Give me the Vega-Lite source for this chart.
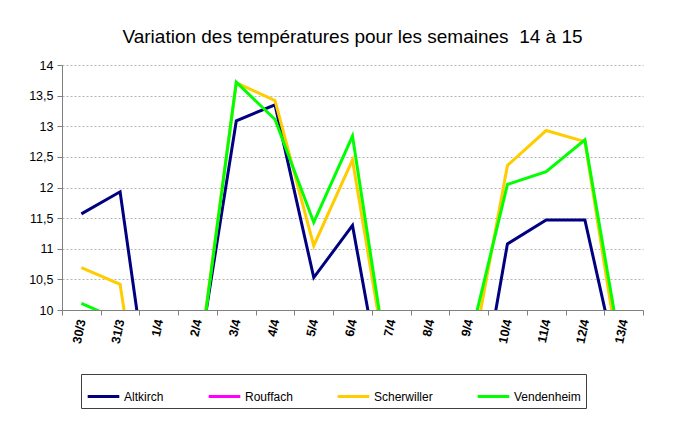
{
  "$schema": "https://vega.github.io/schema/vega-lite/v6.json",
  "width": 581,
  "height": 245,
  "autosize": "none",
  "padding": {"left": 62, "top": 65, "right": 39, "bottom": 116},
  "background": "white",
  "title": {
    "text": "Variation des températures pour les semaines\u00a0 14 à 15",
    "font": "Liberation Sans",
    "fontSize": 19,
    "fontWeight": "normal",
    "color": "#000000",
    "anchor": "middle",
    "offset": 12
  },
  "data": {
    "values": [
      {"date": "30/3", "station": "Altkirch", "temp": 11.57},
      {"date": "31/3", "station": "Altkirch", "temp": 11.93},
      {"date": "1/4", "station": "Altkirch", "temp": 7.45},
      {"date": "2/4", "station": "Altkirch", "temp": 9.1},
      {"date": "3/4", "station": "Altkirch", "temp": 13.09},
      {"date": "4/4", "station": "Altkirch", "temp": 13.35},
      {"date": "5/4", "station": "Altkirch", "temp": 10.53},
      {"date": "6/4", "station": "Altkirch", "temp": 11.38},
      {"date": "7/4", "station": "Altkirch", "temp": 7.9},
      {"date": "8/4", "station": "Altkirch", "temp": 8.0},
      {"date": "9/4", "station": "Altkirch", "temp": 7.47},
      {"date": "10/4", "station": "Altkirch", "temp": 11.08},
      {"date": "11/4", "station": "Altkirch", "temp": 11.47},
      {"date": "12/4", "station": "Altkirch", "temp": 11.47},
      {"date": "13/4", "station": "Altkirch", "temp": 8.64},
      {"date": "30/3", "station": "Scherwiller", "temp": 10.69},
      {"date": "31/3", "station": "Scherwiller", "temp": 10.42},
      {"date": "1/4", "station": "Scherwiller", "temp": 6.3},
      {"date": "2/4", "station": "Scherwiller", "temp": 9.0},
      {"date": "3/4", "station": "Scherwiller", "temp": 13.71},
      {"date": "4/4", "station": "Scherwiller", "temp": 13.42},
      {"date": "5/4", "station": "Scherwiller", "temp": 11.05},
      {"date": "6/4", "station": "Scherwiller", "temp": 12.45},
      {"date": "7/4", "station": "Scherwiller", "temp": 8.65},
      {"date": "8/4", "station": "Scherwiller", "temp": 8.5},
      {"date": "9/4", "station": "Scherwiller", "temp": 8.94},
      {"date": "10/4", "station": "Scherwiller", "temp": 12.36},
      {"date": "11/4", "station": "Scherwiller", "temp": 12.93},
      {"date": "12/4", "station": "Scherwiller", "temp": 12.75},
      {"date": "13/4", "station": "Scherwiller", "temp": 8.76},
      {"date": "30/3", "station": "Vendenheim", "temp": 10.11},
      {"date": "31/3", "station": "Vendenheim", "temp": 9.83},
      {"date": "1/4", "station": "Vendenheim", "temp": 8.0},
      {"date": "2/4", "station": "Vendenheim", "temp": 8.95},
      {"date": "3/4", "station": "Vendenheim", "temp": 13.72},
      {"date": "4/4", "station": "Vendenheim", "temp": 13.11},
      {"date": "5/4", "station": "Vendenheim", "temp": 11.43},
      {"date": "6/4", "station": "Vendenheim", "temp": 12.84},
      {"date": "7/4", "station": "Vendenheim", "temp": 8.7},
      {"date": "8/4", "station": "Vendenheim", "temp": 8.8},
      {"date": "9/4", "station": "Vendenheim", "temp": 9.42},
      {"date": "10/4", "station": "Vendenheim", "temp": 12.05},
      {"date": "11/4", "station": "Vendenheim", "temp": 12.26},
      {"date": "12/4", "station": "Vendenheim", "temp": 12.78},
      {"date": "13/4", "station": "Vendenheim", "temp": 9.07}
    ]
  },
  "mark": {"type": "line", "clip": true, "strokeWidth": 3},
  "encoding": {
    "x": {
      "field": "date",
      "type": "ordinal",
      "sort": ["30/3", "31/3", "1/4", "2/4", "3/4", "4/4", "5/4", "6/4", "7/4", "8/4", "9/4", "10/4", "11/4", "12/4", "13/4"],
      "bandPosition": 0.5,
      "scale": {"type": "band", "paddingInner": 0, "paddingOuter": 0},
      "axis": {
        "title": null,
        "tickBand": "extent",
        "labelAngle": -78,
        "labelAlign": "right",
        "labelBaseline": "middle",
        "labelFont": "Liberation Sans",
        "labelFontSize": 12.5,
        "labelFontWeight": "bold",
        "labelColor": "#000000",
        "labelPadding": 4,
        "domainColor": "#808080",
        "tickColor": "#808080",
        "tickSize": 5,
        "grid": false
      }
    },
    "y": {
      "field": "temp",
      "type": "quantitative",
      "scale": {"domain": [10, 14], "nice": false, "zero": false},
      "axis": {
        "title": null,
        "values": [10, 10.5, 11, 11.5, 12, 12.5, 13, 13.5, 14],
        "labelExpr": "replace(format(datum.value, '~g'), '.', ',')",
        "labelFont": "Liberation Sans",
        "labelFontSize": 12.5,
        "labelColor": "#000000",
        "labelPadding": 4,
        "domainColor": "#808080",
        "tickColor": "#808080",
        "tickSize": 5,
        "grid": true,
        "gridColor": "#b4b4b4",
        "gridDash": [2, 2],
        "gridWidth": 1
      }
    },
    "color": {
      "field": "station",
      "type": "nominal",
      "scale": {
        "domain": ["Altkirch", "Rouffach", "Scherwiller", "Vendenheim"],
        "range": ["#000080", "#FF00FF", "#FFCC00", "#00FF00"]
      },
      "legend": {
        "title": null,
        "orient": "none",
        "legendX": 19,
        "legendY": 309,
        "direction": "horizontal",
        "columns": 4,
        "gridAlign": "none",
        "columnPadding": 38,
        "padding": 5,
        "strokeColor": "#404040",
        "fillColor": "white",
        "symbolType": "stroke",
        "symbolSize": 1000,
        "symbolStrokeWidth": 3,
        "labelFont": "Liberation Sans",
        "labelFontSize": 12,
        "labelColor": "#000000",
        "labelOffset": 3,
        "labelLimit": 200
      }
    }
  },
  "config": {
    "view": {"stroke": null}
  }
}
